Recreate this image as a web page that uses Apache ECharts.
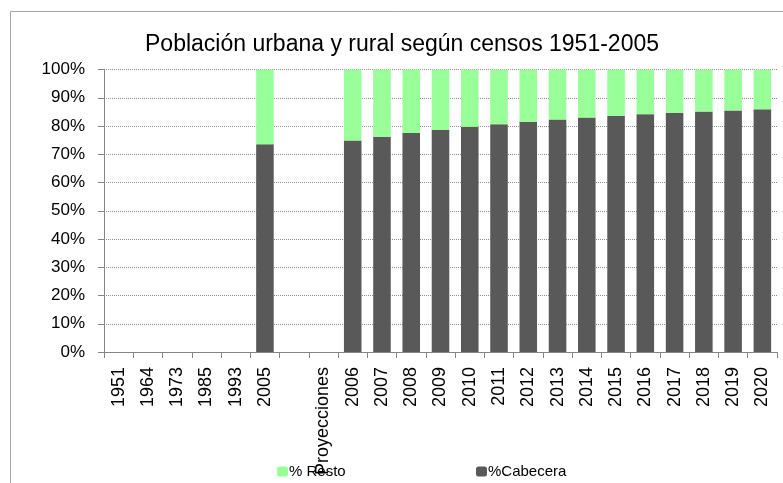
<!DOCTYPE html>
<html>
<head>
<meta charset="utf-8">
<script src="https://cdn.jsdelivr.net/npm/echarts@6/dist/echarts.min.js"></script>
<style>html,body{margin:0;padding:0;background:#fff}#c{width:783px;height:483px}</style>
</head>
<body>
<div id="c"></div>
<script>
const categories = ['1951','1964','1973','1985','1993','2005','','Proyecciones','2006','2007','2008','2009','2010','2011','2012','2013','2014','2015','2016','2017','2018','2019','2020'];
const cabecera = [null,null,null,null,null,73.5,null,null,74.9,76.2,77.5,78.6,79.7,80.6,81.5,82.3,83.0,83.6,84.2,84.7,85.1,85.5,85.9];
const resto    = [null,null,null,null,null,26.5,null,null,25.1,23.8,22.5,21.4,20.3,19.4,18.5,17.7,17.0,16.4,15.8,15.3,14.9,14.5,14.1];
const yTicks = [0,10,20,30,40,50,60,70,80,90,100];

const font = 'Liberation Sans';
const chart = echarts.init(document.getElementById('c'));
chart.setOption({
  animation: false,
  textStyle: {fontFamily: font},
  title: {
    text: 'Población urbana y rural según censos 1951-2005',
    left: 140, top: 28,
    textStyle: {fontFamily: font, fontSize: 23, fontWeight: 'normal', color: '#000'}
  },
  legend: [
    {data: ['% Resto'], left: 272, top: 459, itemWidth: 11, itemHeight: 10, itemGap: 5,
     textStyle: {fontFamily: font, fontSize: 15, color: '#000', padding: [0,0,0,-4]}},
    {data: ['%Cabecera'], left: 471, top: 459, itemWidth: 11, itemHeight: 10, itemGap: 5,
     textStyle: {fontFamily: font, fontSize: 15, color: '#000', padding: [0,0,0,-4]}}
  ],
  graphic: [{
    type: 'rect', left: 8, top: 9, shape: {width: 800, height: 500},
    style: {fill: 'none', stroke: '#a6a6a6', lineWidth: 1}, silent: true, z: -10
  }],
  grid: {left: 104, right: 6, top: 69.5, bottom: 131, containLabel: false},
  xAxis: {
    type: 'category', data: categories, boundaryGap: true,
    axisLine: {lineStyle: {color: '#868686', width: 1}},
    axisTick: {show: true, interval: 0, length: 6, lineStyle: {color: '#868686'}},
    axisLabel: {interval: 0, rotate: 90, margin: 15, fontFamily: font, fontSize: 18, color: '#000'}
  },
  yAxis: {
    type: 'value', min: 0, max: 100, interval: 10,
    axisLine: {show: true, lineStyle: {color: '#868686', width: 1}},
    axisTick: {show: true, length: 6, lineStyle: {color: '#868686'}},
    axisLabel: {formatter: v => yTicks.includes(v) ? v + '%' : '', margin: 19, fontFamily: font, fontSize: 17, color: '#000'},
    splitLine: {show: true, lineStyle: {type: 'dotted', color: '#8c8c8c', width: 1}}
  },
  series: [
    {name: '%Cabecera', type: 'bar', stack: 't', data: cabecera, barCategoryGap: '40%',
     itemStyle: {color: '#595959'}},
    {name: '% Resto', type: 'bar', stack: 't', data: resto, barCategoryGap: '40%',
     itemStyle: {color: '#99ff99'}}
  ]
});
</script>
</body>
</html>
